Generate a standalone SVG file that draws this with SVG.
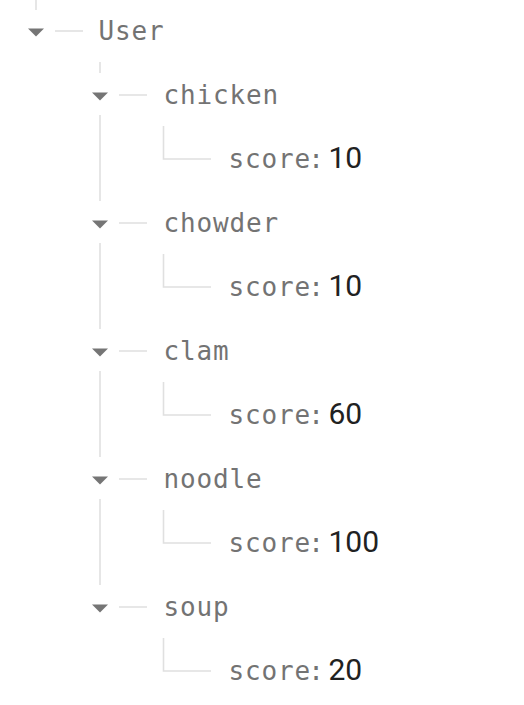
<svg xmlns="http://www.w3.org/2000/svg" width="524" height="705" viewBox="0 0 524 705">
<defs>
<style>
.bg{fill:#ffffff}
.key{font-family:"DejaVu Sans Mono","Liberation Mono",monospace;font-size:26px;fill:#737373;text-anchor:middle}
.val{font-family:Roboto,"Noto Sans",sans-serif;font-size:30px;fill:#212121}
.ln{fill:none;stroke:#e0e0e0;stroke-width:1.6}
.tri{fill:#757575}
</style>
<path id="tri" d="M0,0 H16 L8,8 Z"/>
</defs>
<rect class="bg" x="0" y="0" width="524" height="705"/>
<g id="connectors">
<path class="ln" d="M36,0 V10"/>
<path class="ln" d="M55,31 H83"/>
<path class="ln" d="M100,62 V73"/>
<path class="ln" d="M100,115 V201 M100,243 V329 M100,371 V457 M100,499 V585"/>
<path class="ln" d="M119,95 H147 M119,223 H147 M119,351 H147 M119,479 H147 M119,607 H147"/>
<path class="ln" d="M163.5,126 V159 H211 M163.5,254 V287 H211 M163.5,382 V415 H211 M163.5,510 V543 H211 M163.5,638 V671 H211"/>
</g>
<g id="node-user">
<use href="#tri" class="tri" x="28" y="28.5"/>
<text class="key" x="106.25 122.75 139.25 155.75" y="40">User</text>
</g>
<g id="node-chicken">
<use href="#tri" class="tri" x="92" y="92.5"/>
<text class="key" x="171.25 187.75 204.25 220.75 237.25 253.75 270.25" y="104">chicken</text>
</g>
<g id="node-chicken-score">
<text class="key" x="236.25 252.75 269.25 285.75 302.25 316" y="168">score:</text>
<text class="val" x="328.5" y="168">10</text>
</g>
<g id="node-chowder">
<use href="#tri" class="tri" x="92" y="220.5"/>
<text class="key" x="171.25 187.75 204.25 220.75 237.25 253.75 270.25" y="232">chowder</text>
</g>
<g id="node-chowder-score">
<text class="key" x="236.25 252.75 269.25 285.75 302.25 316" y="296">score:</text>
<text class="val" x="328.5" y="296">10</text>
</g>
<g id="node-clam">
<use href="#tri" class="tri" x="92" y="348.5"/>
<text class="key" x="171.25 187.75 204.25 220.75" y="360">clam</text>
</g>
<g id="node-clam-score">
<text class="key" x="236.25 252.75 269.25 285.75 302.25 316" y="424">score:</text>
<text class="val" x="328.5" y="424">60</text>
</g>
<g id="node-noodle">
<use href="#tri" class="tri" x="92" y="476.5"/>
<text class="key" x="171.25 187.75 204.25 220.75 237.25 253.75" y="488">noodle</text>
</g>
<g id="node-noodle-score">
<text class="key" x="236.25 252.75 269.25 285.75 302.25 316" y="552">score:</text>
<text class="val" x="328.5" y="552">100</text>
</g>
<g id="node-soup">
<use href="#tri" class="tri" x="92" y="604.5"/>
<text class="key" x="171.25 187.75 204.25 220.75" y="616">soup</text>
</g>
<g id="node-soup-score">
<text class="key" x="236.25 252.75 269.25 285.75 302.25 316" y="680">score:</text>
<text class="val" x="328.5" y="680">20</text>
</g>
</svg>
